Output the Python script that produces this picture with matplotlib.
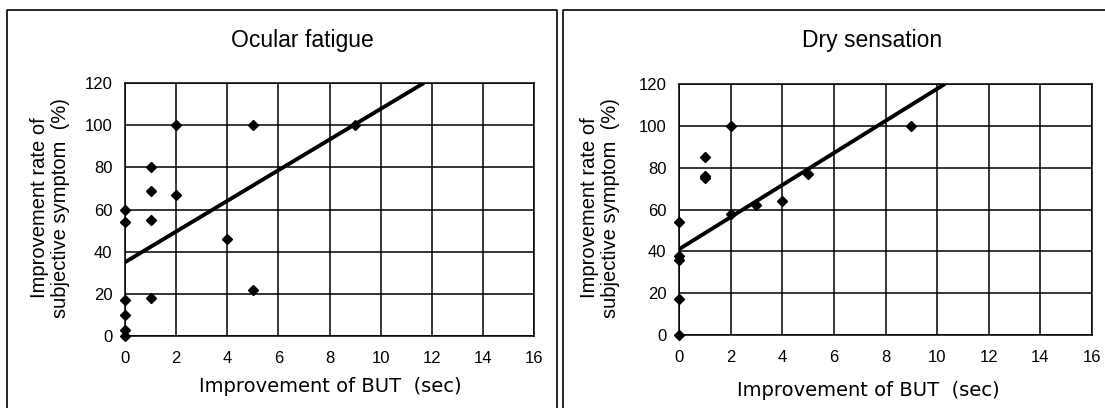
import numpy as np
import matplotlib

matplotlib.use("Agg")
import matplotlib.pyplot as plt  # noqa: E402
from matplotlib.lines import Line2D  # noqa: E402

# Ocular fatigue
ocular_but = [0, 0, 0, 0, 0, 0, 1, 1, 1, 1, 2, 2, 4, 5, 5, 9]
ocular_rate = [60, 54, 17, 10, 3, 0, 80, 69, 55, 18, 100, 67, 46, 100, 22, 100]
ocular_fit = (35.0, 7.27)  # intercept, slope

# Dry sensation
dry_but = [0, 0, 0, 0, 0, 1, 1, 1, 2, 2, 3, 4, 5, 9]
dry_rate = [54, 38, 36, 17, 0, 85, 76, 75, 100, 58, 62, 64, 77, 100]
dry_fit = (41.0, 7.67)

x_ticks = list(range(0, 17, 2))
y_ticks = list(range(0, 121, 20))

SANS = ["Liberation Sans", "DejaVu Sans"]
WIDE = ["DejaVu Sans"]

W, H = 1105, 408
fig = plt.figure(figsize=(W / 100, H / 100), dpi=100)


def px(x, y):
    return x / W, 1 - y / H


def panel(rect, title, title_xy, xlabel_xy, ylabel_x, xs, ys, fit):
    ax = fig.add_axes(rect)
    ax.plot(xs, ys, "D", color="black", ms=5.5, clip_on=False, zorder=4)
    b, m = fit
    xe = (120 - b) / m
    xx = np.array([0, xe])
    ax.plot(xx, b + m * xx, color="black", lw=2.8, solid_capstyle="butt", zorder=3)
    ax.set_xlim(0, 16)
    ax.set_ylim(0, 120)
    ax.set_xticks(x_ticks)
    ax.set_yticks(y_ticks)
    ax.grid(True, color="black", lw=1.1)
    ax.set_axisbelow(True)
    for s in ax.spines.values():
        s.set_color("black")
        s.set_linewidth(1.1)
    ax.tick_params(length=0, labelsize=12)
    ax.tick_params(axis="x", pad=11)
    ax.tick_params(axis="y", pad=9)
    for lab in ax.get_xticklabels() + ax.get_yticklabels():
        lab.set_family(SANS)
    fig.text(*px(*title_xy), title, ha="center", va="center", fontsize=16.5, family=SANS)
    fig.text(*px(*xlabel_xy), "Improvement of BUT  (sec)", ha="center", va="center",
             fontsize=14, family=WIDE)
    fig.text(*px(ylabel_x, 208), "Improvement rate of\nsubjective symptom  (%)",
             ha="center", va="center", rotation=90, fontsize=14.5, family=SANS,
             linespacing=1.15)
    return ax


panel([125 / W, 1 - 336 / H, 409 / W, 253 / H], "Ocular fatigue", (302, 41),
      (330, 387), 50, ocular_but, ocular_rate, ocular_fit)
panel([679 / W, 1 - 335 / H, 413 / W, 251 / H], "Dry sensation", (872, 41),
      (868, 391), 600, dry_but, dry_rate, dry_fit)

# outer frames around each panel
for xs_, ys_ in [([7, 7, 557, 557], [410, 10, 10, 410]),
                 ([563, 563, 1105], [410, 10, 10])]:
    fx = [x / W for x in xs_]
    fy = [1 - y / H for y in ys_]
    fig.add_artist(Line2D(fx, fy, color="black", lw=1.2, transform=fig.transFigure))

fig.savefig("out.png", dpi=100)
